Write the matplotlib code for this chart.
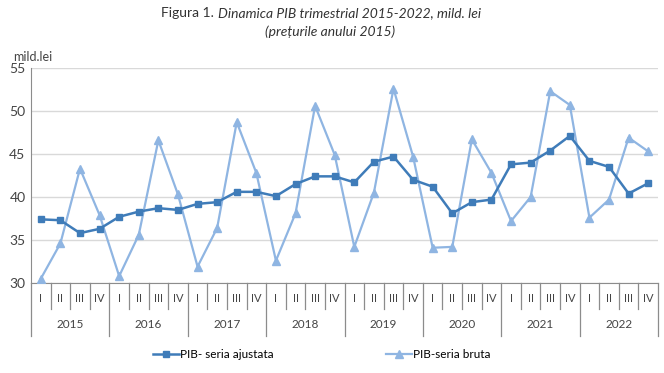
import matplotlib.pyplot as plt
from matplotlib.lines import Line2D

# PIB trimestrial, mild. lei (preturile anului 2015)
years = ["2015", "2016", "2017", "2018", "2019", "2020", "2021", "2022"]
quarters = ["I", "II", "III", "IV"]

pib_ajustat = [37.4, 37.3, 35.8, 36.3,
               37.7, 38.3, 38.7, 38.5,
               39.2, 39.4, 40.6, 40.6,
               40.1, 41.5, 42.4, 42.4,
               41.7, 44.1, 44.7, 42.0,
               41.2, 38.1, 39.4, 39.7,
               43.8, 44.0, 45.4, 47.1,
               44.2, 43.5, 40.4, 41.6]

pib_brut = [30.5, 34.6, 43.3, 37.9,
            30.8, 35.6, 46.6, 40.3,
            31.9, 36.4, 48.7, 42.8,
            32.6, 38.1, 50.6, 44.9,
            34.2, 40.5, 52.6, 44.7,
            34.1, 34.2, 46.7, 42.8,
            37.2, 40.0, 52.3, 50.7,
            37.6, 39.7, 46.9, 45.3]

plt.rcParams['font.family'] = ['Lato', 'DejaVu Sans']

c_adj = "#3f7cb9"
c_raw = "#8fb5e2"
c_axis = "#8c8c8c"

fig = plt.figure(figsize=(6.64, 3.73), dpi=100)
ax = fig.add_axes([31 / 664, 1 - 283 / 373, 627 / 664, 215 / 373])

x = list(range(len(pib_ajustat)))
ax.plot(x, pib_brut, color=c_raw, lw=1.6, marker="^", ms=5.5, zorder=3)
ax.plot(x, pib_ajustat, color=c_adj, lw=1.8, marker="s", ms=5, zorder=4)

ax.set_xlim(-0.5, len(x) - 0.5)
ax.set_ylim(30, 55)
ax.set_yticks([30, 35, 40, 45, 50, 55])
ax.tick_params(axis="y", length=0, labelsize=10, colors="#444444", pad=4)
ax.set_xticks([])
ax.yaxis.grid(True, color="#d9d9d9", lw=1)
ax.set_axisbelow(True)
for s in ["top", "right"]:
    ax.spines[s].set_visible(False)
ax.spines["left"].set_color(c_axis)
ax.spines["bottom"].set_color(c_axis)

# two-level category axis
trans = ax.get_xaxis_transform()
for i in range(len(x) + 1):
    depth = -0.245 if i % 4 == 0 else -0.12
    ax.plot([i - 0.5, i - 0.5], [0, depth], transform=trans, color=c_axis,
            lw=0.9, clip_on=False)
for i in x:
    ax.text(i, -0.07, quarters[i % 4], transform=trans, ha="center",
            va="center", fontsize=8, color="#444444")
for j, yr in enumerate(years):
    ax.text(j * 4 + 1.5, -0.195, yr, transform=trans, ha="center",
            va="center", fontsize=8.5, color="#444444")

fig.text(13 / 664, 1 - 57 / 373, "mild.lei", fontsize=9, color="#444444",
         va="center")

fig.text(214 / 664, 1 - 13 / 373, "Figura 1.", fontsize=10, ha="right",
         va="center", color="#333333")
fig.text(218 / 664, 1 - 13 / 373, "Dinamica PIB trimestrial 2015-2022, mild. lei",
         fontsize=10, style="italic", ha="left", va="center", color="#333333")
fig.text(330 / 664, 1 - 32 / 373, "(prețurile anului 2015)", fontsize=10,
         style="italic", ha="center", va="center", color="#333333")

handles = [Line2D([], [], color=c_adj, lw=1.8, marker="s", ms=5),
           Line2D([], [], color=c_raw, lw=1.6, marker="^", ms=5.5)]
fig.legend(handles, ["PIB- seria ajustata", "PIB-seria bruta"],
           loc="center", bbox_to_anchor=(322 / 664, 1 - 355 / 373), ncol=2,
           frameon=False, fontsize=8.5, handlelength=2.2, handletextpad=0.1,
           columnspacing=9.5)

fig.savefig("out.png", dpi=100)
